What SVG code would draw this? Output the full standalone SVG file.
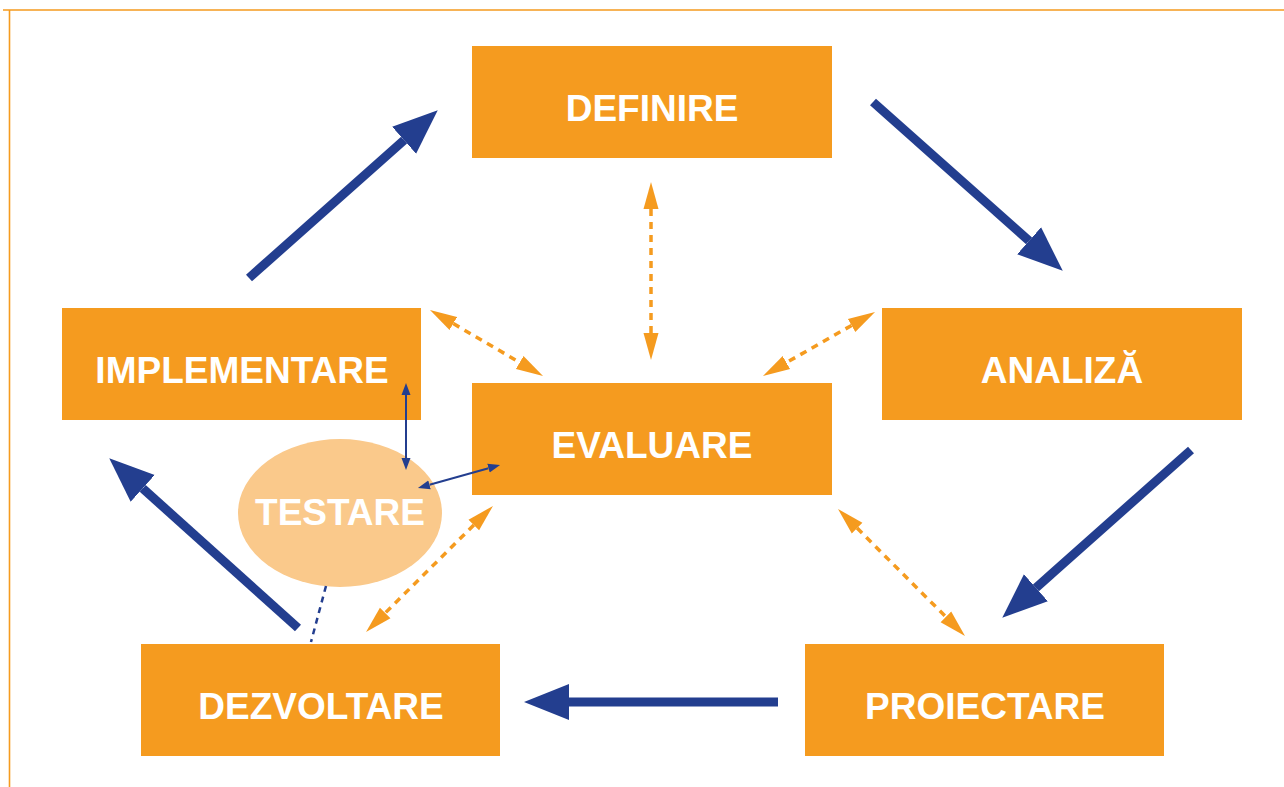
<svg xmlns="http://www.w3.org/2000/svg" width="1284" height="787" viewBox="0 0 1284 787">
<style>
.box{fill:#F59B1F}
.lbl{font-family:"Liberation Sans",Arial,sans-serif;font-weight:bold;font-size:37px;fill:#fff;text-anchor:middle}
.flow{stroke:#233E8F;stroke-width:9;fill:none;marker-end:url(#bh)}
.link{stroke:#F59B1F;stroke-width:3.5;stroke-dasharray:7 6;fill:none;marker-start:url(#oh);marker-end:url(#oh)}
.thin{stroke:#233E8F;stroke-width:2;fill:none;marker-start:url(#th);marker-end:url(#th)}
</style>
<defs>
<marker id="bh" markerUnits="userSpaceOnUse" viewBox="0 -20 46 40" refX="0" refY="0" markerWidth="46" markerHeight="40" orient="auto"><path d="M0,-18 L45,0 L0,18 z" fill="#233E8F"/></marker>
<marker id="oh" markerUnits="userSpaceOnUse" viewBox="0 -9 28 18" refX="0" refY="0" markerWidth="28" markerHeight="18" orient="auto-start-reverse"><path d="M0,-7.5 L27,0 L0,7.5 z" fill="#F59B1F"/></marker>
<marker id="th" markerUnits="userSpaceOnUse" viewBox="0 -6 13 12" refX="0" refY="0" markerWidth="13" markerHeight="12" orient="auto-start-reverse"><path d="M0,-4.5 L12,0 L0,4.5 z" fill="#233E8F"/></marker>
</defs>
<rect width="1284" height="787" fill="#fff"/>
<path d="M3,10 H1284 M9.5,10 V787" stroke="#F59B1F" stroke-width="1.6" fill="none"/>
<g id="definire"><rect class="box" x="472" y="46" width="360" height="112"/><text class="lbl" x="652" y="121">DEFINIRE</text></g>
<g id="analiza"><rect class="box" x="882" y="308" width="360" height="112"/><text class="lbl" x="1062" y="383">ANALIZĂ</text></g>
<g id="proiectare"><rect class="box" x="805" y="644" width="359" height="112"/><text class="lbl" x="985" y="719">PROIECTARE</text></g>
<g id="dezvoltare"><rect class="box" x="141" y="644" width="359" height="112"/><text class="lbl" x="321" y="719">DEZVOLTARE</text></g>
<g id="implementare"><rect class="box" x="62" y="308" width="359" height="112"/><text class="lbl" x="242" y="383">IMPLEMENTARE</text></g>
<g id="evaluare"><rect class="box" x="472" y="383" width="360" height="112"/><text class="lbl" x="652" y="458">EVALUARE</text></g>
<g id="testare"><ellipse cx="340" cy="513" rx="102" ry="74" fill="#FAC98B"/><text class="lbl" x="340" y="525">TESTARE</text></g>
<g id="connectors">
<line class="flow" x1="249" y1="278" x2="404.1" y2="140.2"/>
<line class="flow" x1="873" y1="102" x2="1029.1" y2="240.8"/>
<line class="flow" x1="1191" y1="450" x2="1035.9" y2="587.8"/>
<line class="flow" x1="778" y1="702" x2="569" y2="702"/>
<line class="flow" x1="298" y1="628" x2="142.7" y2="488.4"/>
<line class="link" x1="651" y1="209" x2="651" y2="333"/>
<line class="link" x1="453.3" y1="323.6" x2="519.7" y2="362.4"/>
<line class="link" x1="851.6" y1="325.4" x2="786.4" y2="362.6"/>
<line class="link" x1="473.8" y1="525" x2="385.2" y2="613"/>
<line class="link" x1="857.1" y1="528.1" x2="945.9" y2="616.9"/>
<line class="thin" x1="406" y1="395" x2="406" y2="458"/>
<line class="thin" x1="429.5" y1="484.8" x2="488.5" y2="468.2"/>
<line x1="326" y1="586" x2="311" y2="642" stroke="#233E8F" stroke-width="2.5" stroke-dasharray="6 5"/>
</g>
</svg>
